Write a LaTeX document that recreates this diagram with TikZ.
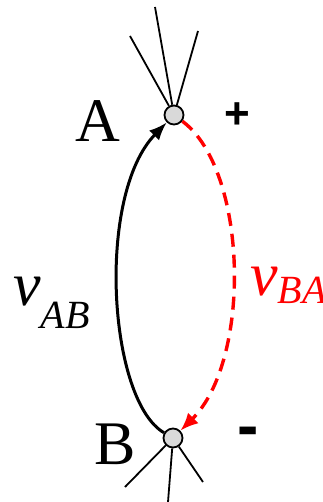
\documentclass[tikz,border=0pt]{standalone}
\usepackage{fontspec}
\setmainfont{Liberation Serif}
\newfontfamily\signfont{Liberation Sans}
\usetikzlibrary{arrows.meta}
\tikzset{
  vert/.style={circle,draw=black,fill=black!15,line width=1.8pt,minimum size=19pt,inner sep=0pt},
  spoke/.style={line width=1.8pt,black},
  pathAB/.style={line width=3pt,black,-{Latex[length=18pt,width=14pt]}},
  pathBA/.style={line width=3.4pt,red,dash pattern=on 13pt off 8pt,-{Latex[length=18pt,width=15pt]}},
  biglbl/.style={inner sep=0pt,font=\fontsize{62}{62}\selectfont},
  signlbl/.style={inner sep=0pt,font=\signfont\bfseries\fontsize{44}{44}\selectfont},
}
\begin{document}
\begin{tikzpicture}[x=1pt,y=-1pt]
\useasboundingbox (0,0) rectangle (323,502);
\node[vert] (A) at (174,115) {};
\node[vert] (B) at (173,438) {};
\coordinate (a1) at (155,7);
\coordinate (a2) at (130,36);
\coordinate (a3) at (198,31);
\coordinate (b1) at (125,487);
\coordinate (b2) at (168,502);
\coordinate (b3) at (203,482);
\foreach \c in {a1,a2,a3} \draw[spoke] (A) -- (\c);
\foreach \c in {b1,b2,b3} \draw[spoke] (B) -- (\c);
\draw[pathAB] (B) .. controls (108,400) and (96,195) .. (A);
\draw[pathBA] (A) .. controls (248,170) and (252,360) .. (B);
\node[biglbl,anchor=base] (lA) at (98,142) {A};
\node[biglbl,anchor=base] (lB) at (115,464) {B};
\node[signlbl] (plus) at (237,116) {+};
\node[signlbl,font=\signfont\bfseries\fontsize{64}{64}\selectfont] (minus) at (248,437) {-};
\node[inner sep=0pt,anchor=base west] (vab) at (13,305) {\fontsize{62}{62}\selectfont\itshape v\raisebox{-23pt}{\fontsize{40}{40}\selectfont AB}};
\node[inner sep=0pt,anchor=base west,text=red] (vba) at (250,295) {\fontsize{62}{62}\selectfont\itshape v\raisebox{-8pt}{\fontsize{40}{40}\selectfont BA}};
\end{tikzpicture}
\end{document}
